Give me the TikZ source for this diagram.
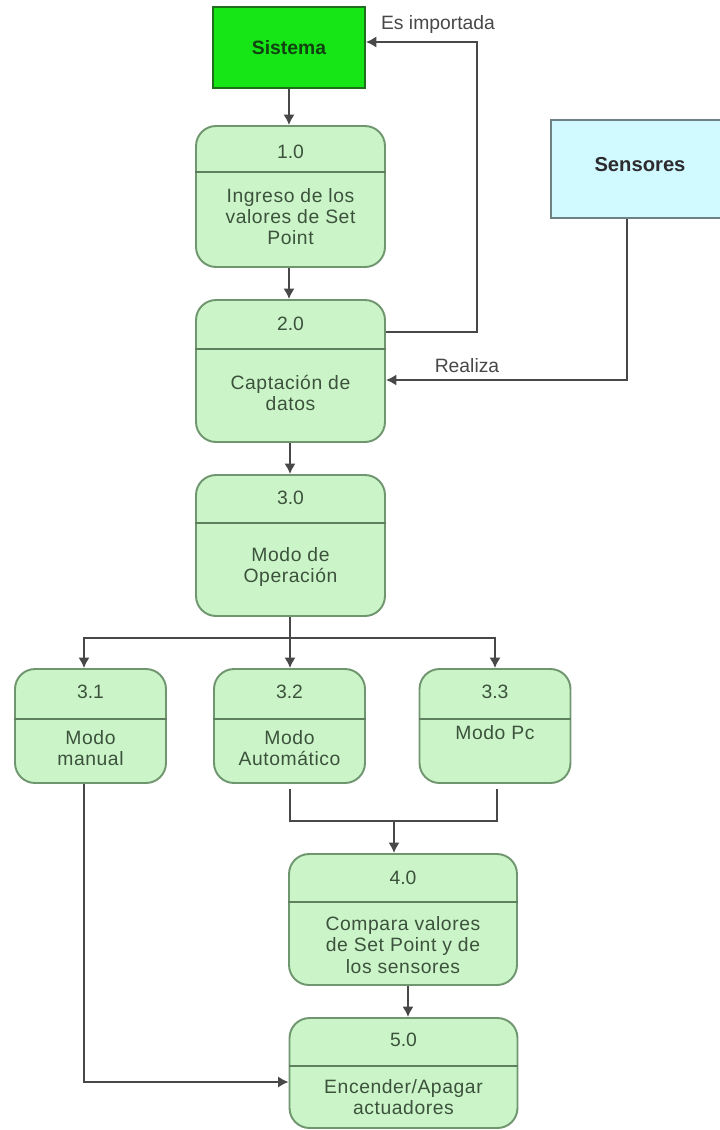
\documentclass[tikz,border=0pt]{standalone}
\usepackage{fontspec}
\setmainfont{Liberation Sans}
\usetikzlibrary{arrows.meta}

\definecolor{procfill}{RGB}{203,245,200}
\definecolor{procline}{RGB}{112,150,112}
\definecolor{proctext}{RGB}{60,82,60}
\definecolor{sisfill}{RGB}{22,230,22}
\definecolor{sisline}{RGB}{30,110,30}
\definecolor{senfill}{RGB}{208,250,255}
\definecolor{senline}{RGB}{110,130,132}
\definecolor{linegray}{RGB}{72,72,72}

\tikzset{
  proc/.style={draw=procline, fill=procfill, line width=1.1pt, rounded corners=0.4cm, inner sep=0pt},
  sep/.style={draw=procline!85!black, line width=1.1pt},
  num/.style={text=proctext, font=\fontsize{11}{12}\selectfont},
  txt/.style={text=proctext, font=\fontsize{11}{12}\selectfont\addfontfeatures{LetterSpace=3}, align=center, inner sep=0pt},
  lbl/.style={text=linegray, font=\fontsize{11}{12}\selectfont},
  line/.style={draw=linegray, line width=1.2pt},
  flow/.style={line, -{Latex[length=6pt,width=6.5pt]}}
}

\begin{document}
\begin{tikzpicture}[x=0.02cm, y=-0.02cm]
        \useasboundingbox (0,0) rectangle (720,1130);

        % sistema y sensores
        \node[draw=sisline, fill=sisfill, line width=1pt, minimum width=3.04cm, minimum height=1.62cm,
              text=sisline!60!black, font=\bfseries\fontsize{11}{12}\selectfont] (sis) at (289,47.5) {Sistema};
        \node[draw=senline, fill=senfill, line width=1pt, minimum width=3.56cm, minimum height=1.96cm] (sen) at (640,169) {};
        \node[text=black!85!cyan!40!black, font=\bfseries\fontsize{11.5}{12}\selectfont] (sentxt) at (640,165) {Sensores};

        % procesos
        \node[proc, minimum width=3.78cm, minimum height=2.82cm] (p1) at (290.5,196.5) {};
        \node[proc, minimum width=3.78cm, minimum height=2.84cm] (p2) at (290.5,371) {};
        \node[proc, minimum width=3.78cm, minimum height=2.82cm] (p3) at (290.5,545.5) {};
        \node[proc, minimum width=3.02cm, minimum height=2.28cm] (p31) at (90.5,726) {};
        \node[proc, minimum width=3.02cm, minimum height=2.28cm] (p32) at (289.5,726) {};
        \node[proc, minimum width=3.02cm, minimum height=2.28cm] (p33) at (495,726) {};
        \node[proc, minimum width=4.56cm, minimum height=2.62cm] (p4) at (403,919.5) {};
        \node[proc, minimum width=4.56cm, minimum height=2.2cm] (p5) at (403.5,1073) {};

        \draw[sep] (p1.west |- 0,172) -- (p1.east |- 0,172);
        \draw[sep] (p2.west |- 0,349) -- (p2.east |- 0,349);
        \draw[sep] (p3.west |- 0,523) -- (p3.east |- 0,523);
        \draw[sep] (p31.west |- 0,719) -- (p31.east |- 0,719);
        \draw[sep] (p32.west |- 0,719) -- (p32.east |- 0,719);
        \draw[sep] (p33.west |- 0,719) -- (p33.east |- 0,719);
        \draw[sep] (p4.west |- 0,902) -- (p4.east |- 0,902);
        \draw[sep] (p5.west |- 0,1066) -- (p5.east |- 0,1066);

        \node[num] (n1) at (290.5,152) {1.0};
        \node[num] (n2) at (290.5,324) {2.0};
        \node[num] (n3) at (290.5,498) {3.0};
        \node[num] (n31) at (90.5,692) {3.1};
        \node[num] (n32) at (289.5,692) {3.2};
        \node[num] (n33) at (495,692) {3.3};
        \node[num] (n4) at (403,878) {4.0};
        \node[num] (n5) at (403.5,1040) {5.0};

        \node[txt] (t1) at (290.5,217) {Ingreso de los\\valores de Set\\Point};
        \node[txt] (t2) at (290.5,393) {Captación de\\datos};
        \node[txt] (t3) at (290.5,567) {Modo de\\Operación};
        \node[txt] (t31) at (90.5,748) {Modo\\manual};
        \node[txt] (t32) at (289.5,748) {Modo\\Automático};
        \node[txt] (t33) at (495,733) {Modo Pc};
        \node[txt] (t4) at (403,945) {Compara valores\\de Set Point y de\\los sensores};
        \node[txt] (t5) at (403.5,1097) {Encender/Apagar\\actuadores};

        % flujos
        \draw[flow] (sis.south) -- (sis.south |- p1.north);
        \draw[flow] (p1.south -| 289,0) -- (p2.north -| 289,0);
        \draw[flow] (p2.south -| 290,0) -- (p3.north -| 290,0);

        \coordinate (imp) at (477,42);
        \draw[flow] (p2.east |- 0,332) -| (imp) -- (sis.east |- imp);
        \node[lbl] (limp) at (438,24) {Es importada};

        \coordinate (rea) at (627,380);
        \draw[flow] (sen.south -| rea) -- (rea) -- (p2.east |- rea);
        \node[lbl] (lrea) at (467,366) {Realiza};

        \coordinate (br) at (290,638);
        \coordinate (b1) at (84,638);
        \coordinate (b3) at (495,638);
        \draw[line] (p3.south -| br) -- (br);
        \draw[flow] (br) -- (b1) -- (b1 |- p31.north);
        \draw[flow] (br) -- (br |- p32.north);
        \draw[flow] (br) -- (b3) -- (b3 |- p33.north);

        \coordinate (jn) at (394,821);
        \draw[line] (290,789) |- (jn) -| (497,789);
        \draw[flow] (jn) -- (jn |- p4.north);
        \draw[flow] (p4.south -| 408,0) -- (p5.north -| 408,0);

        \coordinate (mn) at (84,1082);
        \draw[flow] (p31.south -| mn) -- (mn) -- (mn -| p5.west);
\end{tikzpicture}
\end{document}
